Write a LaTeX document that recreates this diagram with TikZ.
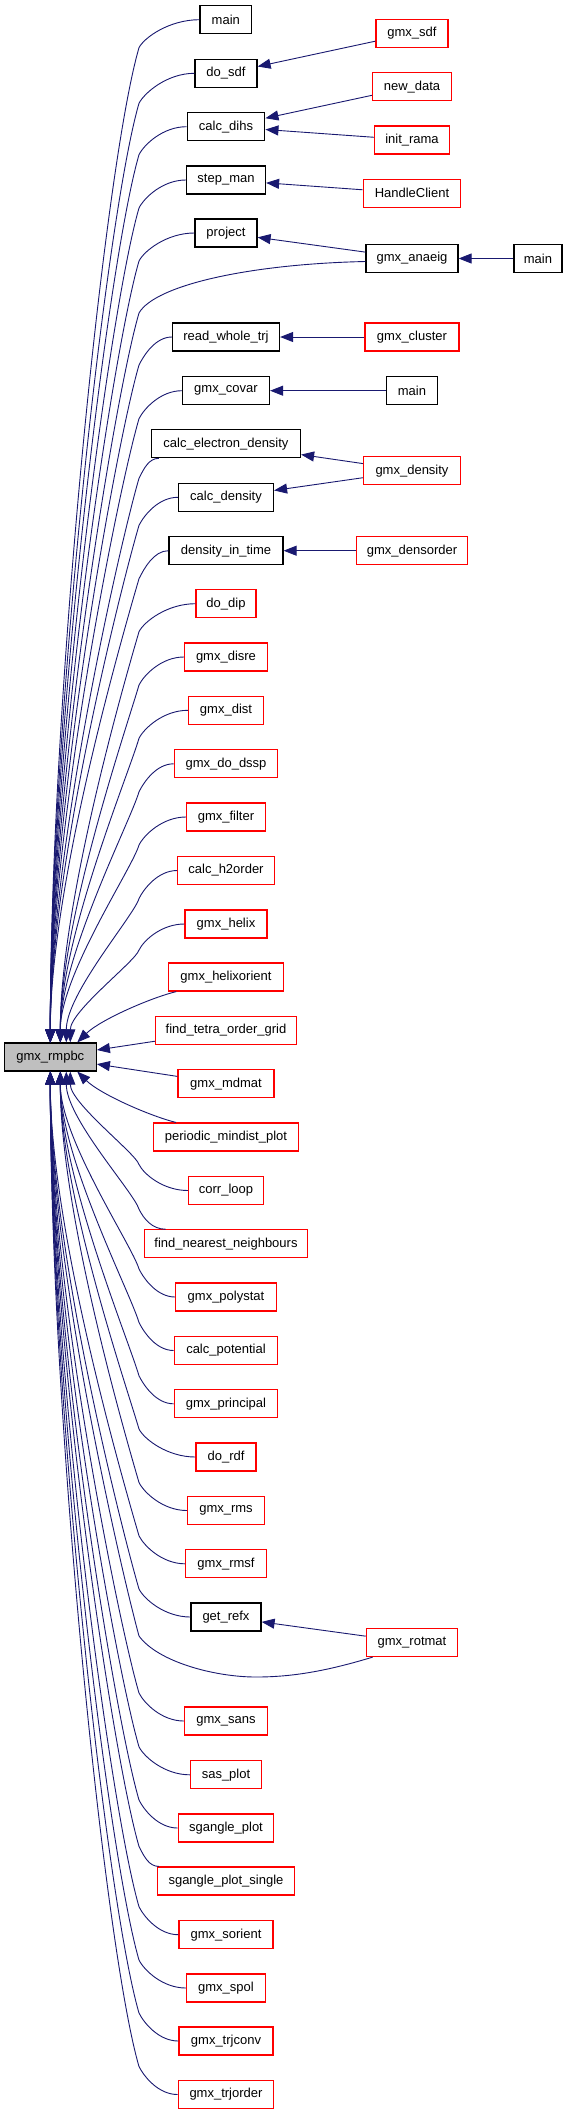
\documentclass[tikz,border=0pt]{standalone}
\usepackage{fontspec}
\setmainfont{Liberation Sans}
\usetikzlibrary{arrows.meta,calc}
\definecolor{edgecol}{HTML}{191970}
\tikzset{
 box/.style={draw=black, line width=1.2pt, fill=white, inner sep=0pt, minimum height=28pt, font=\fontsize{13}{15}\selectfont, text=black},
 rbox/.style={box, draw=red},
 gbox/.style={box, fill=black!25},
 edge/.style={draw=edgecol, line width=0.9pt, -{Triangle[length=13pt,width=10pt]}},
}
\newcommand\upE[4]{\draw[edge] let \p1=(#1), \p2=(#2), \n1={\y1-#4pt-(\y2)} in (\p1) .. controls ({(\x1+#3pt)/2},\y1) and (#3pt+5pt,\y1-#4pt+10pt) .. (#3pt,\y1-#4pt) .. controls (#3pt-0.035*\n1,\y1-#4pt-0.12*\n1) and (\x2,\y2+0.34*\n1) .. (\p2);}
\newcommand\dnE[4]{\draw[edge] let \p1=(#1), \p2=(#2), \n1={\y2-(\y1)-#4pt} in (\p1) .. controls ({(\x1+#3pt)/2},\y1) and (#3pt+5pt,\y1+#4pt-10pt) .. (#3pt,\y1+#4pt) .. controls (#3pt-0.035*\n1,\y1+#4pt+0.12*\n1) and (\x2,\y2-0.34*\n1) .. (\p2);}
\begin{document}
\begin{tikzpicture}[x=1pt,y=-1pt]
\fill[white] (0,0) rectangle (571,2115);
\useasboundingbox (0,0) rectangle (571,2115);
% nodes
\node[box, minimum width=51.5pt] (nMainA) at (225.8,19.7) {main};
\node[rbox, minimum width=72pt] (nGsdf) at (412,33.3) {gmx\_sdf};
\node[box, minimum width=62pt] (nDosdf) at (226,73.3) {do\_sdf};
\node[rbox, minimum width=79pt] (nNewdata) at (412,86.7) {new\_data};
\node[box, minimum width=77.7pt] (nCalcdihs) at (226,126.7) {calc\_dihs};
\node[rbox, minimum width=75pt] (nInitrama) at (412,140) {init\_rama};
\node[box, minimum width=79pt] (nStepman) at (226,180) {step\_man};
\node[rbox, minimum width=97.7pt] (nHandle) at (412,193.3) {HandleClient};
\node[box, minimum width=62pt] (nProject) at (226,233) {project};
\node[box, minimum width=92pt] (nAnaeig) at (412,258.5) {gmx\_anaeig};
\node[box, minimum width=48pt] (nMainB) at (538,258.5) {main};
\node[box, minimum width=107pt] (nReadw) at (226,337) {read\_whole\_trj};
\node[rbox, minimum width=94pt] (nCluster) at (412,337) {gmx\_cluster};
\node[box, minimum width=87pt] (nCovar) at (226,390.7) {gmx\_covar};
\node[box, minimum width=51pt] (nMainC) at (412,390.7) {main};
\node[box, minimum width=149pt] (nCel) at (226,443.7) {calc\_electron\_density};
\node[rbox, minimum width=97pt] (nDensity) at (412,470.7) {gmx\_density};
\node[box, minimum width=95pt] (nCalcdens) at (226,497.3) {calc\_density};
\node[box, minimum width=114pt] (nDit) at (226,550.7) {density\_in\_time};
\node[rbox, minimum width=111.5pt] (nDensorder) at (412,550.7) {gmx\_densorder};
\node[rbox, minimum width=60pt] (nDodip) at (226,603.7) {do\_dip};
\node[rbox, minimum width=83pt] (nDisre) at (226,657) {gmx\_disre};
\node[rbox, minimum width=75pt] (nDist) at (226,710.3) {gmx\_dist};
\node[rbox, minimum width=103.5pt] (nDssp) at (226,763.8) {gmx\_do\_dssp};
\node[rbox, minimum width=79pt] (nFilter) at (226,817) {gmx\_filter};
\node[rbox, minimum width=96.5pt] (nH2) at (226,870.5) {calc\_h2order};
\node[rbox, minimum width=82pt] (nHelix) at (226,924) {gmx\_helix};
\node[rbox, minimum width=114.4pt] (nHor) at (226,977) {gmx\_helixorient};
\node[rbox, minimum width=140.7pt] (nTetra) at (226,1030.5) {find\_tetra\_order\_grid};
\node[gbox, minimum width=92pt] (nR) at (50.3,1057) {gmx\_rmpbc};
\node[rbox, minimum width=96pt] (nMdmat) at (226,1083.8) {gmx\_mdmat};
\node[rbox, minimum width=145pt] (nPmd) at (226,1137) {periodic\_mindist\_plot};
\node[rbox, minimum width=75pt] (nCorr) at (226,1190.5) {corr\_loop};
\node[rbox, minimum width=163.5pt] (nFnn) at (226,1243.8) {find\_nearest\_neighbours};
\node[rbox, minimum width=100.5pt] (nPoly) at (226,1297) {gmx\_polystat};
\node[rbox, minimum width=103.5pt] (nPot) at (226,1350.5) {calc\_potential};
\node[rbox, minimum width=103.5pt] (nPrin) at (226,1403.8) {gmx\_principal};
\node[rbox, minimum width=60pt] (nRdf) at (226,1457) {do\_rdf};
\node[rbox, minimum width=77pt] (nRms) at (226,1510.5) {gmx\_rms};
\node[rbox, minimum width=80.5pt] (nRmsf) at (226,1563.8) {gmx\_rmsf};
\node[box, minimum width=70pt] (nRefx) at (226,1617) {get\_refx};
\node[rbox, minimum width=91.4pt] (nRotmat) at (412,1642.5) {gmx\_rotmat};
\node[rbox, minimum width=83pt] (nSans) at (226,1721) {gmx\_sans};
\node[rbox, minimum width=71pt] (nSas) at (226,1774.8) {sas\_plot};
\node[rbox, minimum width=95.5pt] (nSg) at (226,1828) {sgangle\_plot};
\node[rbox, minimum width=137pt] (nSgs) at (226,1881) {sgangle\_plot\_single};
\node[rbox, minimum width=94pt] (nSor) at (226,1934.7) {gmx\_sorient};
\node[rbox, minimum width=79pt] (nSpol) at (226,1988) {gmx\_spol};
\node[rbox, minimum width=94pt] (nTrjconv) at (226,2041) {gmx\_trjconv};
\node[rbox, minimum width=95.5pt] (nTrjorder) at (226,2094.5) {gmx\_trjorder};
% straight edges
\draw[edge] (nGsdf) -- (nDosdf);
\draw[edge] (nNewdata) -- (nCalcdihs);
\draw[edge] (nInitrama) -- (nCalcdihs);
\draw[edge] (nHandle) -- (nStepman);
\draw[edge] (nAnaeig) -- (nProject);
\draw[edge] (nMainB) -- (nAnaeig);
\draw[edge] (nCluster) -- (nReadw);
\draw[edge] (nMainC) -- (nCovar);
\draw[edge] (nDensity) -- (nCel);
\draw[edge] (nDensity) -- (nCalcdens);
\draw[edge] (nDensorder) -- (nDit);
\draw[edge] (nRotmat) -- (nRefx);
\draw[edge] (nTetra) -- (nR);
\draw[edge] (nMdmat) -- (nR);
% upper curved edges
\upE{nMainA.west}{nR.north}{139}{28}
\upE{nDosdf.west}{nR.north}{139}{30}
\upE{nCalcdihs.west}{nR.north}{139}{28}
\upE{nStepman.west}{nR.north}{139}{28}
\upE{nProject.west}{nR.north}{139}{28}
\draw[edge] ([yshift=-3pt]nAnaeig.west) .. controls (250,264) and (155,285) .. (139,313) .. controls (113.5,400) and (50.3,795) .. (nR.north);
\upE{nReadw.west}{nR.north}{139}{28}
\upE{nCovar.west}{nR.north}{139}{28}
\upE{[xshift=8pt]nCel.south west}{nR.north}{139}{20}
\upE{nCalcdens.west}{nR.north}{139}{28}
\upE{nDit.west}{nR.north}{139}{28}
\upE{nDodip.west}{[xshift=10pt]nR.north}{139}{28}
\upE{nDisre.west}{[xshift=10pt]nR.north}{139}{28}
\upE{nDist.west}{[xshift=10pt]nR.north}{139}{28}
\upE{nDssp.west}{[xshift=10pt]nR.north}{139}{28}
\upE{nFilter.west}{[xshift=10pt]nR.north}{139}{28}
\upE{nH2.west}{[xshift=16pt]nR.north}{139}{28}
\upE{nHelix.west}{[xshift=20pt]nR.north}{139}{26}
\draw[edge] ([xshift=8pt]nHor.south west) .. controls (150,998) and (100,1020) .. ([xshift=27pt]nR.north);
% lower curved edges
\draw[edge] ([xshift=23pt]nPmd.north west) .. controls (150,1116) and (100,1094) .. ([xshift=27pt]nR.south);
\dnE{nCorr.west}{[xshift=20pt]nR.south}{139}{26}
\dnE{[xshift=22pt]nFnn.north west}{[xshift=16pt]nR.south}{139}{20}
\dnE{nPoly.west}{[xshift=10pt]nR.south}{139}{28}
\dnE{nPot.west}{[xshift=10pt]nR.south}{139}{28}
\dnE{nPrin.west}{[xshift=10pt]nR.south}{139}{28}
\dnE{nRdf.west}{[xshift=10pt]nR.south}{139}{28}
\dnE{nRms.west}{[xshift=10pt]nR.south}{139}{28}
\dnE{nRmsf.west}{nR.south}{139}{28}
\dnE{nRefx.west}{nR.south}{139}{28}
\draw[edge] ([xshift=7pt]nRotmat.south west) .. controls (330,1670) and (295,1677) .. (256,1677) .. controls (215,1677) and (158,1662) .. (139,1636) .. controls (120,1566) and (50.3,1264) .. (nR.south);
\dnE{nSans.west}{nR.south}{139}{28}
\dnE{nSas.west}{nR.south}{139}{28}
\dnE{nSg.west}{nR.south}{139}{28}
\dnE{[xshift=2pt]nSgs.north west}{nR.south}{139}{20}
\dnE{nSor.west}{nR.south}{139}{28}
\dnE{nSpol.west}{nR.south}{139}{28}
\dnE{nTrjconv.west}{nR.south}{139}{28}
\dnE{nTrjorder.west}{nR.south}{139}{28}
\end{tikzpicture}
\end{document}
